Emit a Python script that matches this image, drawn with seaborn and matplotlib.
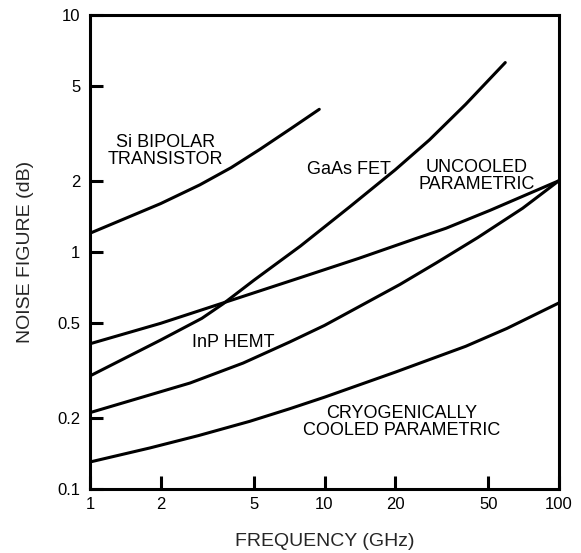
import pandas as pd
import seaborn as sns
import matplotlib.pyplot as plt

# --- data (frequency in GHz, noise figure in dB) ---
si_freq = [1, 2, 2.94, 4, 5.3, 7.2, 9.5]
si_nf = [1.2, 1.6, 1.92, 2.27, 2.71, 3.32, 4.0]

gaas_freq = [1, 2, 3, 3.7, 5, 7.9, 12.8, 20, 28, 40, 59]
gaas_nf = [0.30, 0.425, 0.525, 0.605, 0.76, 1.06, 1.55, 2.22, 2.97, 4.2, 6.3]

uncooled_freq = [1, 2, 3.7, 7.9, 14, 23.9, 33, 50.9, 100]
uncooled_nf = [0.41, 0.50, 0.61, 0.78, 0.94, 1.13, 1.26, 1.5, 2.0]

inp_freq = [1, 2.67, 4.5, 7.1, 10, 21, 30, 45, 70, 100]
inp_nf = [0.21, 0.28, 0.34, 0.417, 0.49, 0.73, 0.90, 1.15, 1.53, 2.0]

cryo_freq = [1, 1.8, 2.9, 4.8, 7.1, 10, 20, 40, 60, 100]
cryo_nf = [0.13, 0.149, 0.168, 0.193, 0.218, 0.244, 0.311, 0.40, 0.476, 0.61]

x_ticks = [1, 2, 5, 10, 20, 50, 100]
x_labels = ["1", "2", "5", "10", "20", "50", "100"]
y_ticks = [0.1, 0.2, 0.5, 1, 2, 5, 10]
y_labels = ["0.1", "0.2", "0.5", "1", "2", "5", "10"]

series = {
    "Si BIPOLAR\nTRANSISTOR": (si_freq, si_nf),
    "GaAs FET": (gaas_freq, gaas_nf),
    "UNCOOLED\nPARAMETRIC": (uncooled_freq, uncooled_nf),
    "InP HEMT": (inp_freq, inp_nf),
    "CRYOGENICALLY\nCOOLED PARAMETRIC": (cryo_freq, cryo_nf),
}

# label positions (data coords)
label_pos = {
    "Si BIPOLAR\nTRANSISTOR": (2.09, 2.67),
    "GaAs FET": (12.7, 2.22),
    "UNCOOLED\nPARAMETRIC": (44.4, 2.09),
    "InP HEMT": (4.07, 0.417),
    "CRYOGENICALLY\nCOOLED PARAMETRIC": (21.4, 0.192),
}

rows = []
for name, (fx, fy) in series.items():
    for a, b in zip(fx, fy):
        rows.append({"device": name, "freq": a, "nf": b})
df = pd.DataFrame(rows)

# --- style ---
sns.set_style("ticks")
plt.rcParams["font.family"] = ["Liberation Sans", "DejaVu Sans"]

fig = plt.figure(figsize=(5.81, 5.53), dpi=100)
ax = fig.add_axes([90 / 581, 1 - 489 / 553, (559 - 90) / 581, (489 - 15) / 553])

sns.lineplot(
    data=df, x="freq", y="nf", hue="device",
    palette=["black"] * len(series), estimator=None, sort=False,
    linewidth=2.2, legend=False, ax=ax
)

ax.set_xscale("log")
ax.set_yscale("log")
ax.set_xlim(1, 100)
ax.set_ylim(0.1, 10)
ax.set_xticks(x_ticks, x_labels)
ax.set_yticks(y_ticks, y_labels)
ax.minorticks_off()

for s in ax.spines.values():
    s.set_linewidth(2.2)
    s.set_color("black")
ax.tick_params(axis="both", direction="in", length=9.5, width=2.2,
               labelsize=12, colors="black")
ax.tick_params(axis="y", pad=7)
ax.tick_params(axis="x", pad=6)

ax.set_xlabel("FREQUENCY (GHz)", fontsize=14, labelpad=15)
ax.set_ylabel("NOISE FIGURE (dB)", fontsize=14, labelpad=17)

for name, (tx, ty) in label_pos.items():
    ax.text(tx, ty, name, fontsize=13, ha="center", va="center",
            linespacing=1.0, color="black")

fig.savefig("out.png", dpi=100)
